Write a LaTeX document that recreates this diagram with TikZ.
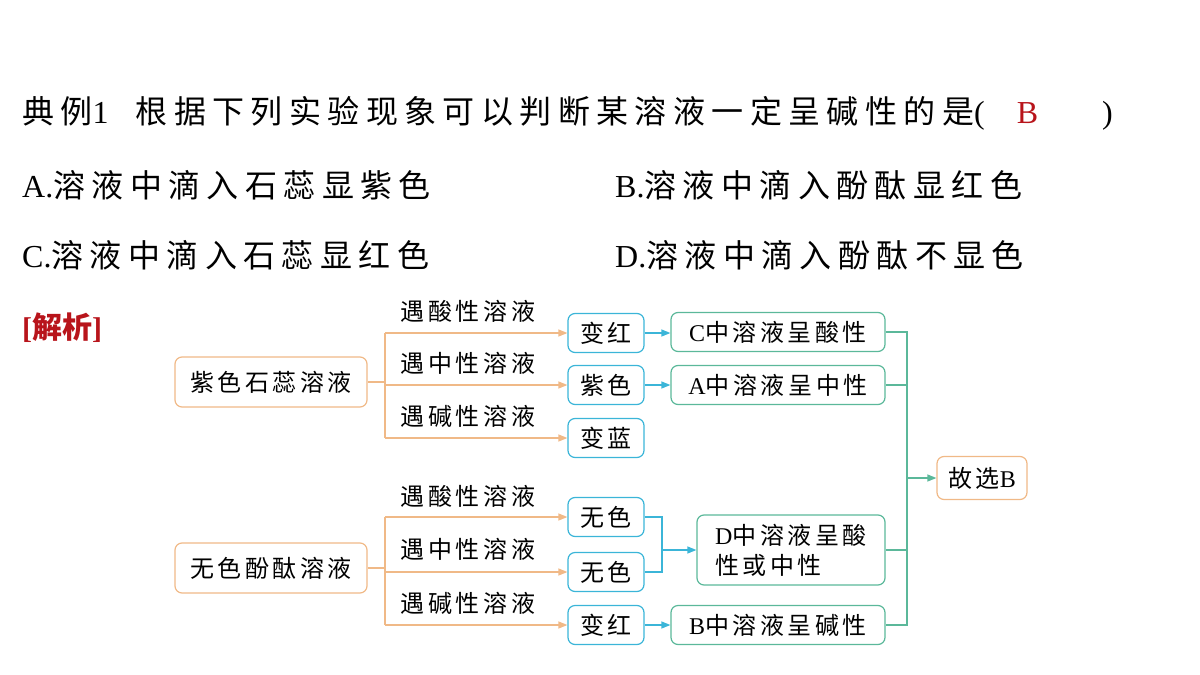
\documentclass[tikz,border=0pt]{standalone}
\usepackage{fontspec}
\setmainfont{Noto Sans CJK SC}
\newfontfamily\lat{Liberation Serif}
\usetikzlibrary{arrows.meta}
\definecolor{org}{HTML}{F0B987}
\definecolor{blu}{HTML}{3BB5D8}
\definecolor{grn}{HTML}{5BB89A}
\definecolor{redb}{HTML}{B8141B}
\newcommand{\bigf}{\fontsize{32}{36}\selectfont\addfontfeature{LetterSpace=20}}
\newcommand{\smf}{\fontsize{24}{30}\selectfont\addfontfeature{LetterSpace=15}}
\begin{document}
\begin{tikzpicture}[x=1pt,y=-1pt,
  t/.style={font=\bigf,anchor=west,inner sep=0},
  lbl/.style={font=\smf,inner sep=0},
  ob/.style={draw=org,line width=1.2pt,rounded corners=7pt,font=\smf,minimum width=192pt,minimum height=50pt},
  bb/.style={draw=blu,line width=1.2pt,rounded corners=7pt,font=\smf,minimum width=76pt,minimum height=39pt},
  gb/.style={draw=grn,line width=1.2pt,rounded corners=7pt,font=\smf,minimum width=214pt,minimum height=39pt},
  oa/.style={draw=org,line width=1.2pt,-{Triangle[length=9pt,width=7pt]}},
  ba/.style={draw=blu,line width=1.2pt,-{Triangle[length=9pt,width=7pt]}},
  gl/.style={draw=grn,line width=1.2pt}]
\useasboundingbox (0,0) rectangle (1200,675);
\node[t] (title) at (22,113) {典例{\lat 1}\ \ 根据下列实验现象可以判断某溶液一定呈碱性的是{\lat (}\quad{\color{redb}\lat B}\qquad{\lat )}};
\node[t] (qa) at (22,185) {{\lat A.}溶液中滴入石蕊显紫色};
\node[t] (qb) at (615,185) {{\lat B.}溶液中滴入酚酞显红色};
\node[t] (qc) at (22,255) {{\lat C.}溶液中滴入石蕊显红色};
\node[t] (qd) at (615,255) {{\lat D.}溶液中滴入酚酞不显色};
\node[t,text=redb,font=\fontsize{30}{34}\selectfont\bfseries] (jx) at (22,328) {{\lat[}解析{\lat]}};
\node[ob] (s1) at (271,382) {紫色石蕊溶液};
\node[ob] (s2) at (271,568) {无色酚酞溶液};
\node[bb] (b1) at (606,333) {变红};
\node[bb] (b2) at (606,385) {紫色};
\node[bb] (b3) at (606,438) {变蓝};
\node[bb] (b4) at (606,517) {无色};
\node[bb] (b5) at (606,572) {无色};
\node[bb] (b6) at (606,625) {变红};
\node[gb] (g1) at (778,332) {{\lat C}中溶液呈酸性};
\node[gb] (g2) at (778,385) {{\lat A}中溶液呈中性};
\node[gb,minimum width=188pt,minimum height=70pt,align=left] (g3) at (791,550) {{\lat D}中溶液呈酸\\性或中性};
\node[gb] (g4) at (778,625) {{\lat B}中溶液呈碱性};
\node[draw=org,line width=1.2pt,rounded corners=7pt,font=\smf,minimum width=90pt,minimum height=43pt] (ans) at (982,478) {故选{\lat B}};
\coordinate (k1) at (385,382);
\coordinate (k2) at (385,568);
\draw[org,line width=1.2pt] (s1.east) -- (k1);
\draw[org,line width=1.2pt] (385,333) -- (385,438);
\draw[oa] (385,333) -- (b1.west);
\draw[oa] (385,385) -- (b2.west);
\draw[oa] (385,438) -- (b3.west);
\draw[org,line width=1.2pt] (s2.east) -- (k2);
\draw[org,line width=1.2pt] (385,517) -- (385,625);
\draw[oa] (385,517) -- (b4.west);
\draw[oa] (385,572) -- (b5.west);
\draw[oa] (385,625) -- (b6.west);
\node[lbl] (l1) at (468,311) {遇酸性溶液};
\node[lbl] (l2) at (468,363) {遇中性溶液};
\node[lbl] (l3) at (468,416) {遇碱性溶液};
\node[lbl] (l4) at (468,496) {遇酸性溶液};
\node[lbl] (l5) at (468,549) {遇中性溶液};
\node[lbl] (l6) at (468,603) {遇碱性溶液};
\draw[ba] (b1.east) -- (b1.east -| g1.west);
\draw[ba] (b2.east) -- (b2.east -| g2.west);
\draw[ba] (b6.east) -- (b6.east -| g4.west);
\coordinate (j) at (662,550);
\draw[blu,line width=1.2pt] (b4.east) -| (j) |- (b5.east);
\draw[ba] (j) -- (g3.west);
\coordinate (r) at (907,478);
\draw[gl] (g1.east) -| (907,625) -- (g4.east);
\draw[gl] (g2.east) -- (907,385);
\draw[gl] (g3.east) -- (907,550);
\draw[gl,-{Triangle[length=9pt,width=7pt]}] (r) -- (ans.west);
\end{tikzpicture}
\end{document}
